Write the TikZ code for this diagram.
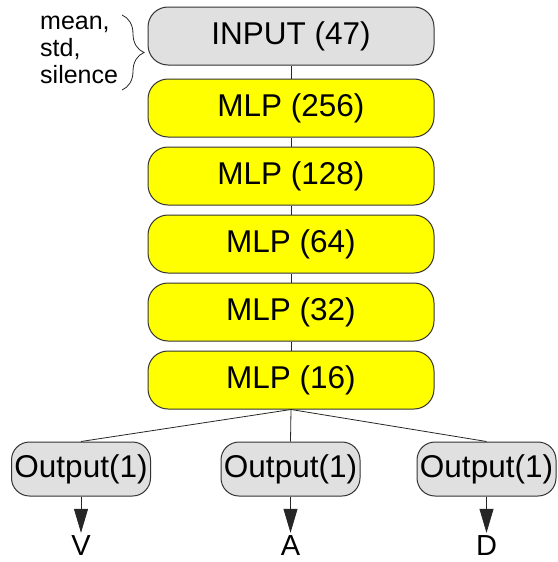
\documentclass[tikz,border=0pt]{standalone}
\usepackage{fontspec}
\setmainfont{Liberation Sans}
\usetikzlibrary{decorations.pathreplacing,arrows.meta}
\definecolor{boxgray}{HTML}{E0E0E0}
\definecolor{boxyellow}{HTML}{FFFF00}
\definecolor{edgegray}{HTML}{333333}
\tikzset{
  layer/.style={draw=edgegray, line width=1pt, rounded corners=20pt, minimum width=286pt, minimum height=58pt, inner sep=0pt, font=\fontsize{31.5}{31.5}\selectfont},
  mlp/.style={layer, fill=boxyellow},
  inp/.style={layer, fill=boxgray},
  outbox/.style={draw=edgegray, line width=1pt, fill=boxgray, rounded corners=18pt, minimum width=139pt, minimum height=54pt, inner sep=0pt, font=\fontsize{31.5}{31.5}\selectfont},
  conn/.style={draw=black!85, line width=0.8pt},
  outlbl/.style={inner sep=0pt, font=\fontsize{29}{29}\selectfont},
  arr/.style={conn, -{Triangle[length=24pt,width=14pt]}, shorten >=3pt}
}
\begin{document}
\begin{tikzpicture}[x=1pt,y=-1pt]
\useasboundingbox (0,0) rectangle (557,562);
\node[inp] (in) at (291,36) {INPUT (47)};
\node[mlp] (m1) at (291,108) {MLP (256)};
\node[mlp] (m2) at (291,176) {MLP (128)};
\node[mlp] (m3) at (291,244) {MLP (64)};
\node[mlp] (m4) at (291,312) {MLP (32)};
\node[mlp] (m5) at (291,380) {MLP (16)};
\node[outbox] (o1) at (81,469) {Output(1)};
\node[outbox] (o2) at (290.5,469) {Output(1)};
\node[outbox] (o3) at (486.5,469) {Output(1)};
\node[outlbl] (v) at (81,546) {V};
\node[outlbl] (a) at (290.5,546) {A};
\node[outlbl] (d) at (486.5,546) {D};
\node[align=left, anchor=west, inner sep=0pt, font=\fontsize{25}{27}\selectfont] (feat) at (40,50) {mean,\\std,\\silence};
\draw[conn] (in.south) -- (m1.north);
\draw[conn] (m1.south) -- (m2.north);
\draw[conn] (m2.south) -- (m3.north);
\draw[conn] (m3.south) -- (m4.north);
\draw[conn] (m4.south) -- (m5.north);
\draw[conn] (m5.south) -- (o1.north);
\draw[conn] (m5.south) -- (o2.north);
\draw[conn] (m5.south) -- (o3.north);
\draw[arr] (o1.south) -- (v.north);
\draw[arr] (o2.south) -- (a.north);
\draw[arr] (o3.south) -- (d.north);
\draw[conn, decorate, decoration={brace, amplitude=22pt}] (122,15) -- (122,90);
\end{tikzpicture}
\end{document}
